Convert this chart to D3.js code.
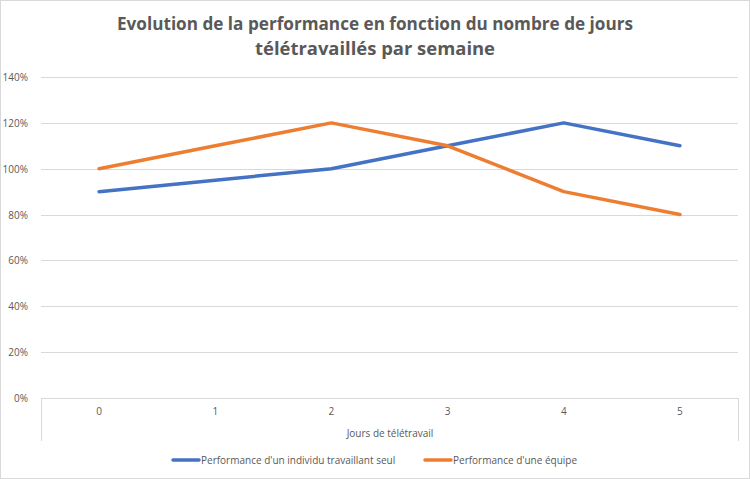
<!DOCTYPE html>
<html>
<head>
<meta charset="utf-8">
<script src="https://cdn.jsdelivr.net/npm/d3@7"></script>
<style>
  body { margin: 0; background: #fff; }
  text { font-family: "Liberation Sans Narrow", "Open Sans", sans-serif; fill: #595959; }
</style>
</head>
<body>
<svg id="grafico"></svg>
<script>
// Données
var jours = ['0', '1', '2', '3', '4', '5'];
var individuSeul = [0.90, 0.95, 1.00, 1.10, 1.20, 1.10];
var equipe = [1.00, 1.10, 1.20, 1.10, 0.90, 0.80];
var graduationsY = [0, 0.2, 0.4, 0.6, 0.8, 1.0, 1.2, 1.4];
var titreLignes = ['Evolution de la performance en fonction du nombre de jours', 'télétravaillés par semaine'];
var series = [
  { nom: "Performance d'un individu travaillant seul", valeurs: individuSeul, couleur: '#4472C4' },
  { nom: "Performance d'une équipe", valeurs: equipe, couleur: '#ED7D31' }
];

var largeur = 750, hauteur = 479;
var svg = d3.select('#grafico').attr('width', largeur).attr('height', hauteur);

//Bordure du graphique
svg.append('rect').attr('x', 0.5).attr('y', 0.5).attr('width', largeur - 1).attr('height', hauteur - 1)
   .attr('fill', '#fff').attr('stroke', '#d9d9d9');

//Échelles
var x = d3.scaleBand().domain(jours).range([41, 738]);
var y = d3.scaleLinear().domain([0, 1.4]).range([398, 77]);

//Titre
svg.selectAll('.titre').data(titreLignes).enter().append('text')
   .attr('x', 375).attr('y', (d, i) => 30 + i * 25)
   .attr('text-anchor', 'middle')
   .style('font-family', '"Open Sans", sans-serif')
   .style('font-size', '18px').style('font-weight', 'bold')
   .attr('textLength', (d, i) => i === 0 ? 516 : 240)
   .attr('lengthAdjust', 'spacingAndGlyphs')
   .text(d => d);

//Grille
svg.append('g').selectAll('line').data(graduationsY).enter().append('line')
   .attr('x1', 41).attr('x2', 738)
   .attr('y1', d => Math.round(y(d)) + 0.5).attr('y2', d => Math.round(y(d)) + 0.5)
   .attr('stroke', '#d9d9d9').attr('stroke-width', 1);

//Étiquettes Y
svg.append('g').selectAll('text').data(graduationsY).enter().append('text')
   .attr('x', 28).attr('y', d => y(d) + 4)
   .attr('text-anchor', 'end').style('font-size', '10px')
   .text(d => d3.format('.0%')(d));

//Axe X : lignes latérales et étiquettes
svg.append('g').selectAll('line').data([41, 738]).enter().append('line')
   .attr('x1', d => d + 0.5).attr('x2', d => d + 0.5)
   .attr('y1', 398).attr('y2', 441)
   .attr('stroke', '#d9d9d9');
svg.append('g').selectAll('text').data(jours).enter().append('text')
   .attr('x', d => x(d) + x.bandwidth() / 2).attr('y', 415)
   .attr('text-anchor', 'middle').style('font-size', '10px')
   .text(d => d);
svg.append('text').attr('x', 390).attr('y', 437)
   .attr('text-anchor', 'middle').style('font-size', '10px')
   .text('Jours de télétravail');

//Courbes
var ligne = d3.line()
  .x((d, i) => x(jours[i]) + x.bandwidth() / 2)
  .y(d => y(d));
svg.append('g').selectAll('path').data(series).enter().append('path')
   .attr('d', d => ligne(d.valeurs))
   .attr('fill', 'none')
   .attr('stroke', d => d.couleur)
   .attr('stroke-width', 3.5)
   .attr('stroke-linecap', 'round')
   .attr('stroke-linejoin', 'round');

//Légende
var legendePos = [173, 425];
var legende = svg.append('g').selectAll('g').data(series).enter().append('g')
   .attr('transform', (d, i) => 'translate(' + legendePos[i] + ',460)');
legende.append('line').attr('x1', 0).attr('x2', 26).attr('y1', 0).attr('y2', 0)
   .attr('stroke', d => d.couleur).attr('stroke-width', 3.5).attr('stroke-linecap', 'round');
legende.append('text').attr('x', 28).attr('y', 4).style('font-size', '10px').text(d => d.nom);
</script>
</body>
</html>
